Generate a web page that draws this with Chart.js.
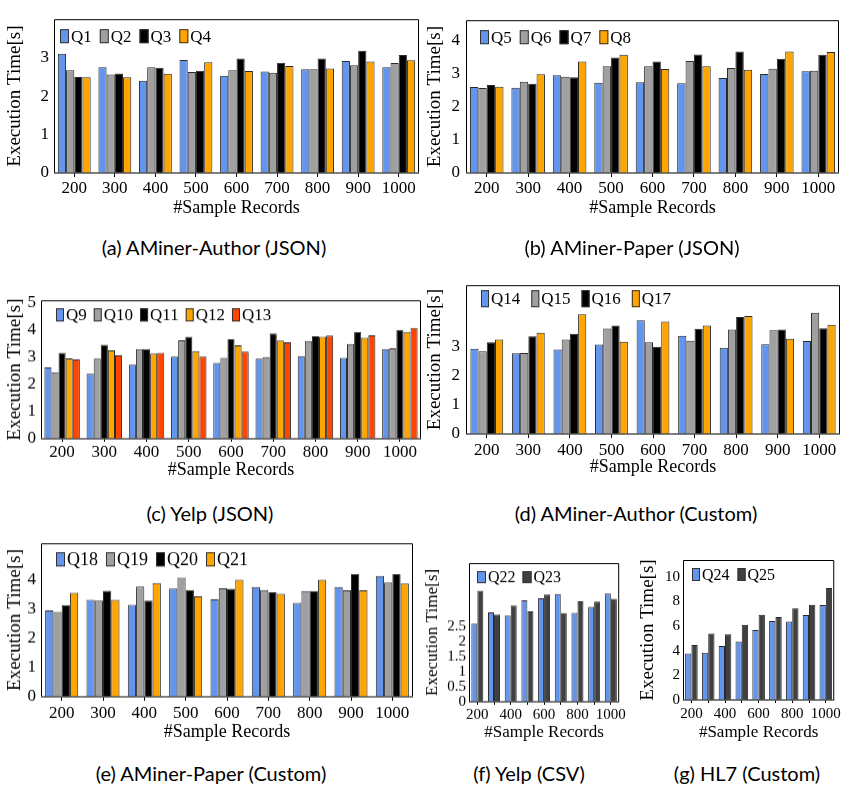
<!DOCTYPE html>
<html>
<head>
<meta charset="utf-8">
<script src="https://cdn.jsdelivr.net/npm/chart.js@4"></script>
<style>
  body { margin: 0; background: #fff; }
  #page { position: relative; width: 844px; height: 788px; overflow: hidden; }
  canvas { position: absolute; }
  .cap { position: absolute; font-family: Lato, sans-serif; font-size: 20px; color: #000;
         transform: translate(-50%, -50%); white-space: nowrap; }
</style>
</head>
<body>
<div id="page">
  <canvas id="ca"></canvas>
  <canvas id="cb"></canvas>
  <canvas id="cc"></canvas>
  <canvas id="cd"></canvas>
  <canvas id="ce"></canvas>
  <canvas id="cf"></canvas>
  <canvas id="cg"></canvas>
  <div class="cap" style="left:214px;top:247px">(a) AMiner-Author (JSON)</div>
  <div class="cap" style="left:632px;top:247px">(b) AMiner-Paper (JSON)</div>
  <div class="cap" style="left:210px;top:513px">(c) Yelp (JSON)</div>
  <div class="cap" style="left:636px;top:513px">(d) AMiner-Author (Custom)</div>
  <div class="cap" style="left:211px;top:773px">(e) AMiner-Paper (Custom)</div>
  <div class="cap" style="left:529px;top:773px">(f) Yelp (CSV)</div>
  <div class="cap" style="left:747px;top:773px">(g) HL7 (Custom)</div>
</div>
<script>
const records = ['200', '300', '400', '500', '600', '700', '800', '900', '1000'];

// (a) AMiner-Author (JSON)
const q1 = [3.10, 2.75, 2.40, 2.94, 2.53, 2.64, 2.70, 2.91, 2.75];
const q2 = [2.67, 2.56, 2.75, 2.63, 2.67, 2.61, 2.70, 2.80, 2.86];
const q3 = [2.50, 2.59, 2.74, 2.66, 2.98, 2.87, 2.98, 3.18, 3.07];
const q4 = [2.49, 2.49, 2.58, 2.88, 2.65, 2.78, 2.72, 2.90, 2.93];
// (b) AMiner-Paper (JSON)
const q5 = [2.59, 2.57, 2.94, 2.72, 2.73, 2.70, 2.86, 2.98, 3.06];
const q6 = [2.56, 2.75, 2.90, 3.21, 3.21, 3.37, 3.16, 3.14, 3.08];
const q7 = [2.65, 2.69, 2.88, 3.48, 3.36, 3.57, 3.66, 3.44, 3.56];
const q8 = [2.60, 2.97, 3.36, 3.56, 3.13, 3.21, 3.11, 3.66, 3.64];
// (c) Yelp (JSON)
const q9  = [2.61, 2.38, 2.71, 3.01, 2.78, 2.93, 3.03, 2.96, 3.28];
const q10 = [2.44, 2.93, 3.28, 3.61, 2.96, 2.99, 3.58, 3.47, 3.31];
const q11 = [3.15, 3.44, 3.28, 3.73, 3.64, 3.85, 3.75, 3.90, 3.98];
const q12 = [2.94, 3.24, 3.12, 3.21, 3.42, 3.60, 3.73, 3.70, 3.91];
const q13 = [2.91, 3.05, 3.15, 3.01, 3.19, 3.53, 3.78, 3.79, 4.06];
// (d) AMiner-Author (Custom)
const q14 = [2.93, 2.78, 2.91, 3.08, 3.91, 3.38, 2.97, 3.09, 3.20];
const q15 = [2.85, 2.79, 3.25, 3.63, 3.16, 3.21, 3.60, 3.57, 4.17];
const q16 = [3.16, 3.36, 3.45, 3.73, 3.00, 3.62, 4.03, 3.60, 3.64];
const q17 = [3.25, 3.48, 4.12, 3.17, 3.87, 3.73, 4.06, 3.28, 3.76];
// (e) AMiner-Paper (Custom)
const q18 = [2.96, 3.32, 3.15, 3.71, 3.34, 3.76, 3.22, 3.76, 4.14];
const q19 = [2.91, 3.30, 3.78, 4.08, 3.72, 3.66, 3.62, 3.65, 3.92];
const q20 = [3.14, 3.63, 3.30, 3.66, 3.70, 3.58, 3.62, 4.20, 4.20];
const q21 = [3.56, 3.32, 3.90, 3.44, 4.01, 3.53, 4.01, 3.65, 3.88];
// (f) Yelp (CSV)
const q22 = [2.58, 2.95, 2.85, 3.35, 3.42, 3.56, 2.94, 3.14, 3.58];
const q23 = [3.67, 2.88, 3.18, 2.99, 3.54, 2.93, 3.32, 3.31, 3.40];
// (g) HL7 (Custom)
const q24 = [3.78, 3.83, 4.39, 4.75, 5.69, 6.42, 6.37, 6.90, 7.72];
const q25 = [4.47, 5.41, 5.33, 6.12, 6.93, 6.75, 7.46, 7.74, 9.09];

// y tick labels per panel
const ticksA = [0, 1, 2, 3];
const ticksB = [0, 1, 2, 3, 4];
const ticksC = [0, 1, 2, 3, 4, 5];
const ticksD = [0, 1, 2, 3];
const ticksE = [0, 1, 2, 3, 4];
const ticksF = [0, 0.5, 1, 1.5, 2, 2.5];
const ticksG = [0, 2, 4, 6, 8, 10];

const BLUE = '#6495ed', GRAY = '#a0a0a0', BLACK = '#000000', ORANGE = '#ffa500',
      RED = '#ff4500', DARK = '#404040';
const SERIF = '"Liberation Serif", serif';

// frame around the plot area (bottom axis a bit greyer)
const frame = {
  id: 'frame',
  afterDatasetsDraw(chart) {
    const {ctx, chartArea: a} = chart;
    ctx.save();
    ctx.strokeStyle = '#000';
    ctx.lineWidth = 1;
    ctx.beginPath();
    ctx.moveTo(a.left + 0.5, a.bottom);
    ctx.lineTo(a.left + 0.5, a.top + 0.5);
    ctx.lineTo(a.right - 0.5, a.top + 0.5);
    ctx.lineTo(a.right - 0.5, a.bottom);
    ctx.stroke();
    ctx.strokeStyle = '#555';
    ctx.lineWidth = 1.6;
    ctx.beginPath();
    ctx.moveTo(a.left, a.bottom);
    ctx.lineTo(a.right, a.bottom);
    ctx.stroke();
    ctx.restore();
  }
};

// legend drawn inside the plot, top-left, like pgfplots
const inLegend = {
  id: 'inLegend',
  afterDraw(chart, args, o) {
    const {ctx, chartArea: a} = chart;
    ctx.save();
    ctx.font = o.size + 'px ' + SERIF;
    ctx.textBaseline = 'middle';
    let x = a.left + o.x;
    const y = a.top + o.y;
    chart.data.datasets.forEach(ds => {
      ctx.fillStyle = ds.backgroundColor;
      ctx.fillRect(x, y, o.bw, o.bh);
      ctx.strokeStyle = '#333';
      ctx.lineWidth = 1;
      ctx.strokeRect(x + 0.5, y + 0.5, o.bw - 1, o.bh - 1);
      ctx.fillStyle = '#000';
      ctx.fillText(ds.label, x + o.bw + 2, y + o.bh / 2 + 1);
      x += o.bw + 2 + ctx.measureText(ds.label).width + o.gap;
    });
    ctx.restore();
  }
};

function panel(id, area, series, o) {
  const cv = document.getElementById(id);
  const left = area.L - o.wy, top = area.T - 3;
  const w = area.R - left + 3, h = area.B + o.hx - top;
  cv.style.left = left + 'px';
  cv.style.top = top + 'px';
  cv.style.width = w + 'px';
  cv.style.height = h + 'px';
  cv.width = w;
  cv.height = h;

  new Chart(cv, {
    type: 'bar',
    data: {
      labels: records,
      datasets: series.map(s => ({
        label: s[0],
        data: s[1],
        backgroundColor: s[2],
        borderColor: '#2a2a2a',
        borderWidth: 1,
        categoryPercentage: o.cat,
        barPercentage: 1
      }))
    },
    options: {
      responsive: false,
      animation: false,
      layout: { padding: { top: 3, right: 3, left: 0, bottom: 0 } },
      plugins: {
        legend: { display: false },
        tooltip: { enabled: false },
        inLegend: o.legend
      },
      scales: {
        x: {
          grid: { display: true, drawOnChartArea: false, offset: false, tickLength: o.tl, color: '#000' },
          border: { display: false },
          ticks: {
            color: '#000',
            font: { family: SERIF, size: o.xfont },
            padding: o.xpad,
            autoSkip: false,
            maxRotation: 0,
            callback: function (v, i) {
              return o.every2 && i % 2 ? '' : this.getLabelForValue(v);
            }
          },
          title: {
            display: true,
            text: '#Sample Records',
            color: '#000',
            font: { family: SERIF, size: o.xtfont },
            padding: { top: 0, bottom: 0 }
          },
          afterFit: s => { s.height = o.hx; }
        },
        y: {
          min: 0,
          max: o.max,
          grid: { display: false, drawTicks: false },
          border: { display: false },
          ticks: {
            color: '#000',
            font: { family: SERIF, size: o.yfont },
            padding: o.ypad,
            callback: v => String(v)
          },
          afterBuildTicks: s => { s.ticks = o.ticks.map(v => ({ value: v })); },
          title: {
            display: true,
            text: 'Execution Time[s]',
            color: '#000',
            font: { family: SERIF, size: o.ytfont },
            padding: { top: o.ytp, bottom: 0 }
          },
          afterFit: s => { s.width = o.wy; }
        }
      }
    },
    plugins: [frame, inLegend]
  });
}

panel('ca', { L: 54, T: 7, R: 419, B: 173 },
  [['Q1', q1, BLUE], ['Q2', q2, GRAY], ['Q3', q3, BLACK], ['Q4', q4, ORANGE]],
  { wy: 54, hx: 46, tl: 4, xpad: 1, max: 4.0, ticks: ticksA, cat: 0.81,
    xfont: 17, yfont: 17, xtfont: 18, ytfont: 19, ytp: 4, ypad: 5,
    legend: { x: 6, y: 10, bw: 9, bh: 14, size: 17, gap: 8 } });

panel('cb', { L: 466, T: 7, R: 839, B: 173 },
  [['Q5', q5, BLUE], ['Q6', q6, GRAY], ['Q7', q7, BLACK], ['Q8', q8, ORANGE]],
  { wy: 46, hx: 46, tl: 4, xpad: 1, max: 4.6, ticks: ticksB, cat: 0.81,
    xfont: 17, yfont: 17, xtfont: 18, ytfont: 19, ytp: 3.5, ypad: 6,
    legend: { x: 14, y: 10, bw: 9, bh: 14, size: 17, gap: 8 } });

panel('cc', { L: 41, T: 288, R: 421, B: 438.7 },
  [['Q9', q9, BLUE], ['Q10', q10, GRAY], ['Q11', q11, BLACK], ['Q12', q12, ORANGE], ['Q13', q13, RED]],
  { wy: 41, hx: 42, tl: 3, xpad: 0, max: 5.07, ticks: ticksC, cat: 0.84,
    xfont: 17, yfont: 17, xtfont: 18, ytfont: 19, ytp: 3.5, ypad: 5,
    legend: { x: 15, y: 8, bw: 8, bh: 13, size: 17, gap: 7 } });

panel('cd', { L: 466, T: 272, R: 840, B: 434.3 },
  [['Q14', q14, BLUE], ['Q15', q15, GRAY], ['Q16', q16, BLACK], ['Q17', q17, ORANGE]],
  { wy: 46, hx: 44, tl: 4, xpad: 2, max: 5.12, ticks: ticksD, cat: 0.79,
    xfont: 17, yfont: 17, xtfont: 18, ytfont: 19, ytp: 3.5, ypad: 6,
    legend: { x: 15, y: 5, bw: 8, bh: 17, size: 17, gap: 11 } });

panel('ce', { L: 41, T: 531, R: 413, B: 696.7 },
  [['Q18', q18, BLUE], ['Q19', q19, GRAY], ['Q20', q20, BLACK], ['Q21', q21, ORANGE]],
  { wy: 41, hx: 46, tl: 4, xpad: 2, max: 5.26, ticks: ticksE, cat: 0.8,
    xfont: 17, yfont: 17, xtfont: 18, ytfont: 19, ytp: 3.5, ypad: 5,
    legend: { x: 15, y: 9, bw: 9, bh: 14, size: 18, gap: 8 } });

panel('cf', { L: 469, T: 554, R: 624, B: 701.7 },
  [['Q22', q22, BLUE], ['Q23', q23, DARK]],
  { wy: 49, hx: 41, tl: 3, xpad: 1, max: 4.58, ticks: ticksF, cat: 0.72, every2: true,
    xfont: 15, yfont: 15, xtfont: 17, ytfont: 17, ytp: 2, ypad: 3,
    legend: { x: 8, y: 8, bw: 9, bh: 12, size: 16, gap: 7 } });

panel('cg', { L: 683, T: 551, R: 840, B: 700.3 },
  [['Q24', q24, BLUE], ['Q25', q25, DARK]],
  { wy: 49, hx: 43, tl: 3, xpad: 2, max: 11.37, ticks: ticksG, cat: 0.75, every2: true,
    xfont: 15, yfont: 15, xtfont: 17, ytfont: 19, ytp: 2.5, ypad: 3,
    legend: { x: 9, y: 8, bw: 8, bh: 13, size: 16, gap: 8 } });
</script>
</body>
</html>
